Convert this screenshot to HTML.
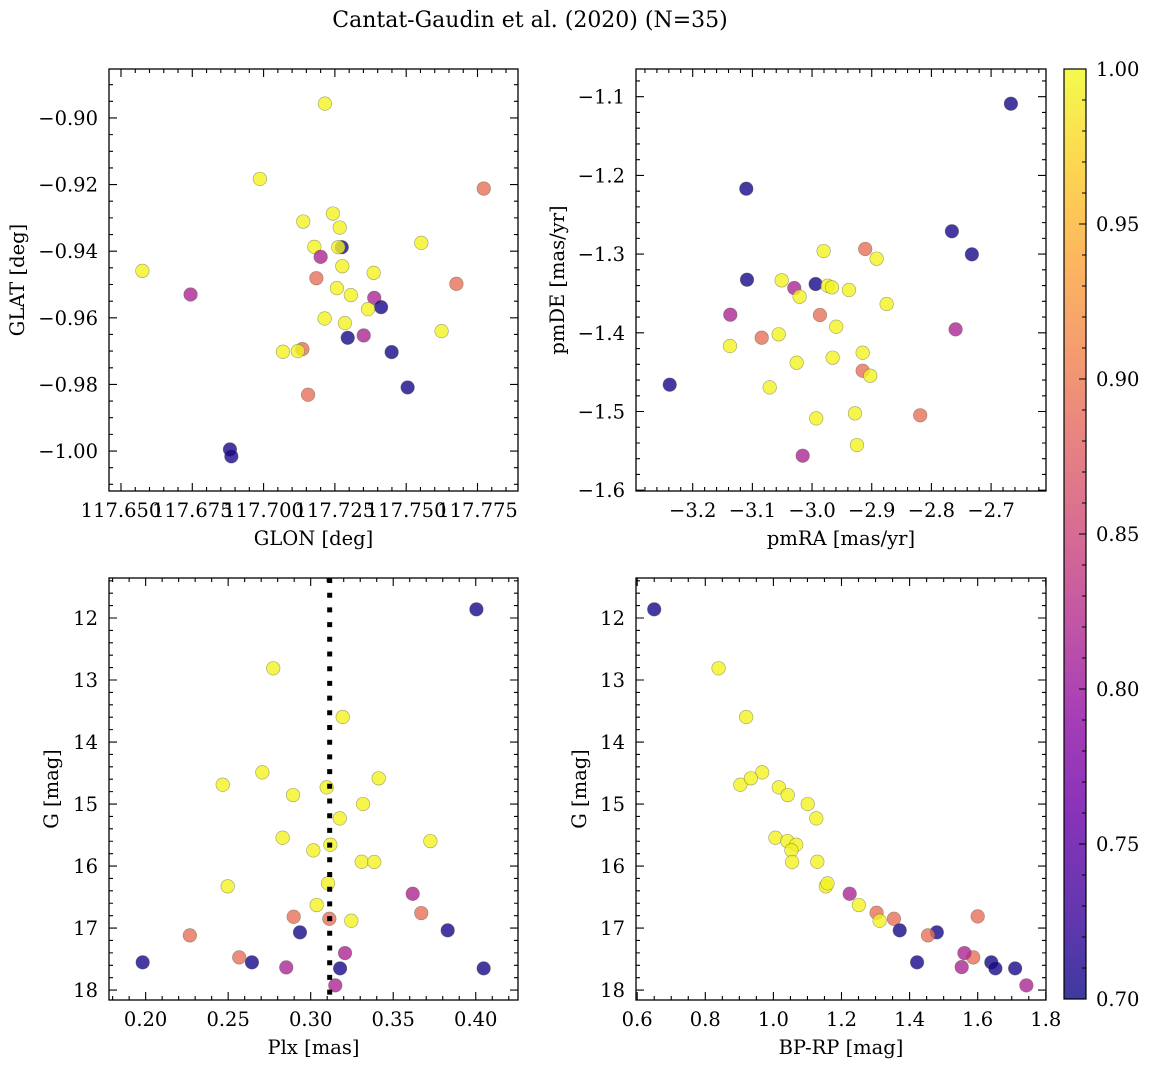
<!DOCTYPE html>
<html><head><meta charset="utf-8">
<style>
html,body{margin:0;padding:0;background:#fff;}
svg{display:block;font-family:"DejaVu Serif","Liberation Serif",serif;}
</style></head>
<body>
<svg id="fig" xmlns="http://www.w3.org/2000/svg" width="1149" height="1068" viewBox="0 0 1149 1068">
<defs>
<linearGradient id="plasmaGrad" x1="0" y1="1" x2="0" y2="0"></linearGradient>
</defs>
<text x="530" y="27" font-size="22" text-anchor="middle">Cantat-Gaudin et al. (2020) (N=35)</text>
</svg>
<script>
// ---- data ----
const glon = [117.7215,117.6987,117.7772,117.7243,117.7139,117.7267,117.7178,117.7274,117.7262,117.7553,117.7200,117.6575,117.7276,117.7386,117.7185,117.7676,117.7257,117.7306,117.6744,117.7388,117.7412,117.7366,117.7214,117.7285,117.7295,117.7351,117.7624,117.7068,117.7136,117.7120,117.7449,117.7505,117.7156,117.6882,117.6887];
const glat = [-0.8957,-0.9183,-0.9212,-0.9287,-0.9311,-0.9329,-0.9387,-0.9388,-0.9388,-0.9375,-0.9417,-0.9459,-0.9445,-0.9465,-0.9481,-0.9498,-0.9511,-0.9532,-0.9530,-0.9540,-0.9568,-0.9574,-0.9602,-0.9616,-0.9660,-0.9653,-0.9640,-0.9702,-0.9694,-0.9700,-0.9703,-0.9809,-0.9831,-0.9995,-1.0016];
const probTL = [0.995,0.995,0.89,0.995,0.995,0.995,0.995,0.705,0.995,0.995,0.815,0.995,0.995,0.995,0.89,0.89,0.995,0.995,0.815,0.815,0.705,0.995,0.995,0.995,0.705,0.815,0.995,0.995,0.89,0.995,0.705,0.705,0.89,0.705,0.705];

const pmra = [-2.6668,-3.1102,-2.7657,-2.7322,-2.9806,-2.9109,-2.8918,-3.1090,-3.0509,-2.9940,-3.0298,-2.9739,-2.9667,-2.9382,-3.0208,-2.8750,-3.1370,-2.9868,-2.9595,-2.7595,-3.0844,-3.0559,-3.1375,-2.9152,-2.9655,-3.0258,-2.9152,-2.9025,-3.2385,-3.0710,-2.9281,-2.9930,-2.8188,-2.9248,-3.0157];
const pmde = [-1.1089,-1.2169,-1.2710,-1.3003,-1.2961,-1.2935,-1.3058,-1.3325,-1.3333,-1.3380,-1.3431,-1.3402,-1.3422,-1.3456,-1.3541,-1.3634,-1.3770,-1.3774,-1.3923,-1.3956,-1.4062,-1.4019,-1.4168,-1.4253,-1.4316,-1.4380,-1.4482,-1.4545,-1.4659,-1.4693,-1.5023,-1.5087,-1.5048,-1.5426,-1.5562];
const probTR = [0.705,0.705,0.705,0.705,0.995,0.89,0.995,0.705,0.995,0.705,0.815,0.995,0.995,0.995,0.995,0.995,0.815,0.89,0.995,0.815,0.89,0.995,0.995,0.995,0.995,0.995,0.89,0.995,0.705,0.995,0.995,0.995,0.89,0.995,0.815];

const plx = [0.4004,0.2773,0.3194,0.2707,0.2467,0.3412,0.3097,0.2893,0.3317,0.3176,0.2830,0.3725,0.3119,0.3016,0.3309,0.3385,0.2497,0.3105,0.3618,0.3036,0.3670,0.2897,0.3113,0.3246,0.2935,0.3830,0.2268,0.2567,0.1982,0.2644,0.3208,0.2852,0.3178,0.4048,0.3149];
const gmagBL = [11.860,12.811,13.597,14.489,14.689,14.585,14.731,14.855,15.000,15.231,15.544,15.597,15.656,15.747,15.931,15.935,16.327,16.279,16.447,16.629,16.758,16.818,16.850,16.882,17.069,17.037,17.118,17.473,17.553,17.553,17.403,17.634,17.650,17.650,17.924];
const probBL = [0.705,0.995,0.995,0.995,0.995,0.995,0.995,0.995,0.995,0.995,0.995,0.995,0.995,0.995,0.995,0.995,0.995,0.995,0.815,0.995,0.89,0.89,0.89,0.995,0.705,0.705,0.89,0.89,0.705,0.705,0.815,0.815,0.705,0.705,0.815];
const plxMedian = [0.3115];

const bprp = [0.650,0.839,0.920,0.967,0.903,0.934,1.016,1.042,1.101,1.126,1.006,1.041,1.067,1.053,1.055,1.129,1.154,1.159,1.224,1.251,1.303,1.354,1.600,1.312,1.371,1.480,1.454,1.587,1.422,1.640,1.561,1.553,1.652,1.710,1.743];
const gmagBR = [11.860,12.811,13.597,14.489,14.689,14.585,14.731,14.855,15.000,15.231,15.544,15.597,15.656,15.747,15.935,15.931,16.327,16.279,16.447,16.629,16.753,16.850,16.812,16.882,17.037,17.069,17.118,17.473,17.553,17.553,17.403,17.629,17.650,17.650,17.924];
const probBR = [0.705,0.995,0.995,0.995,0.995,0.995,0.995,0.995,0.995,0.995,0.995,0.995,0.995,0.995,0.995,0.995,0.995,0.995,0.815,0.995,0.89,0.89,0.89,0.995,0.705,0.705,0.89,0.89,0.705,0.705,0.815,0.815,0.705,0.705,0.815];

const cbTicks = [0.70,0.75,0.80,0.85,0.90,0.95,1.00];

// ---- colormap ----
const plasma = ["#0d0887","#41049d","#6a00a8","#8f0da4","#b12a90","#cc4778","#e16462","#f2844b","#fca636","#fcce25","#f0f921"];
function hex2rgb(h){return [parseInt(h.slice(1,3),16),parseInt(h.slice(3,5),16),parseInt(h.slice(5,7),16)];}
function cmap(p){
  let t=(p-0.7)/0.3; t=Math.max(0,Math.min(1,t));
  const f=t*10, i=Math.min(9,Math.floor(f)), r=f-i;
  const a=hex2rgb(plasma[i]), b=hex2rgb(plasma[i+1]);
  const c=a.map((v,k)=>Math.round(v+(b[k]-v)*r));
  return "rgb("+c.join(",")+")";
}

const NS="http://www.w3.org/2000/svg";
const svg=document.getElementById("fig");
function mk(tag,attrs,parent){
  const e=document.createElementNS(NS,tag);
  for(const k in attrs) e.setAttribute(k,attrs[k]);
  (parent||svg).appendChild(e); return e;
}
function fmt(v,d){const s=Math.abs(v).toFixed(d);return (v<-1e-9?"\u2212":"")+s;}
const FS=19.5;

function panel(cfg){
  const g=mk("g",{});
  
  
  const {x0,y0,x1,y1}=cfg.box;
  const sx=v=>x0+(v-cfg.xd[0])/(cfg.xd[1]-cfg.xd[0])*(x1-x0);
  const sy=v=>cfg.yinv? y0+(v-cfg.yd[0])/(cfg.yd[1]-cfg.yd[0])*(y1-y0)
                      : y1-(v-cfg.yd[0])/(cfg.yd[1]-cfg.yd[0])*(y1-y0);
  for(let i=0;i<cfg.xs.length;i++){
    const c=mk("circle",{cx:sx(cfg.xs[i]),cy:sy(cfg.ys[i]),r:6.8,fill:cmap(cfg.ps[i]),"fill-opacity":0.8,stroke:"rgba(90,90,60,0.55)","stroke-width":0.6},g);
    
    
  }
  if(cfg.vline){
    for(const v of cfg.vline){
      const l=mk("line",{x1:sx(v),x2:sx(v),y1:y0,y2:y1,stroke:"#000","stroke-width":5,"stroke-dasharray":"5 9.7"},g);
      
      
    }
  }
  const fr=mk("rect",{x:x0,y:y0,width:x1-x0,height:y1-y0,fill:"none",stroke:"#000","stroke-width":1.3},g);
  
  
  const ticks=(lo,hi,step)=>{const a=[];const s=Math.ceil(lo/step-1e-6);for(let k=s;k*step<=hi+1e-9;k++)a.push(k*step);return a;};
  const xmin=Math.min(...cfg.xd),xmax=Math.max(...cfg.xd),ymin=Math.min(...cfg.yd),ymax=Math.max(...cfg.yd);
  let p="";
  ticks(xmin,xmax,cfg.xminor).forEach(v=>{const X=sx(v);p+=`M${X} ${y1}v-4M${X} ${y0}v4`;});
  ticks(ymin,ymax,cfg.yminor).forEach(v=>{const Y=sy(v);p+=`M${x0} ${Y}h4M${x1} ${Y}h-4`;});
  cfg.xmajor.forEach(v=>{const X=sx(v);p+=`M${X} ${y1}v-8M${X} ${y0}v8`;});
  cfg.ymajor.forEach(v=>{const Y=sy(v);p+=`M${x0} ${Y}h8M${x1} ${Y}h-8`;});
  const tp=mk("path",{d:p,stroke:"#000","stroke-width":1.1,fill:"none"},g);
  
  
  cfg.xmajor.forEach(v=>{
    const t=mk("text",{x:sx(v),y:y1+26,"font-size":FS,"text-anchor":"middle"},g);
    t.textContent=fmt(v,cfg.xdec);
    
    
  });
  cfg.ymajor.forEach(v=>{
    const t=mk("text",{x:x0-11,y:sy(v)+7,"font-size":FS,"text-anchor":"end"},g);
    t.textContent=fmt(v,cfg.ydec);
    
    
  });
  const xl=mk("text",{x:(x0+x1)/2,y:y1+54,"font-size":FS,"text-anchor":"middle"},g);
  xl.textContent=cfg.xlabel;
  
  
  const yl=mk("text",{x:0,y:0,"font-size":FS,"text-anchor":"middle",transform:`translate(${cfg.ylx},${(y0+y1)/2}) rotate(-90)`},g);
  yl.textContent=cfg.ylabel;
  
  
}

panel({name:"panel-glon-glat",box:{x0:109,y0:69,x1:518,y1:491},xd:[117.6458,117.7892],yd:[-1.0120,-0.8853],
  xs:glon,ys:glat,ps:probTL,xmajor:[117.650,117.675,117.700,117.725,117.750,117.775],xminor:0.005,
  ymajor:[-1.00,-0.98,-0.96,-0.94,-0.92,-0.90],yminor:0.005,xdec:3,ydec:2,xlabel:"GLON [deg]",ylabel:"GLAT [deg]",ylx:24});
panel({name:"panel-pmra-pmde",box:{x0:636,y0:69,x1:1046,y1:491},xd:[-3.295,-2.608],yd:[-1.601,-1.0648],
  xs:pmra,ys:pmde,ps:probTR,xmajor:[-3.2,-3.1,-3.0,-2.9,-2.8,-2.7],xminor:0.02,
  ymajor:[-1.6,-1.5,-1.4,-1.3,-1.2,-1.1],yminor:0.02,xdec:1,ydec:1,xlabel:"pmRA [mas/yr]",ylabel:"pmDE [mas/yr]",ylx:564});
panel({name:"panel-plx-g",box:{x0:109,y0:578,x1:518,y1:1000},xd:[0.1778,0.4256],yd:[11.355,18.16],yinv:true,
  xs:plx,ys:gmagBL,ps:probBL,vline:plxMedian,xmajor:[0.20,0.25,0.30,0.35,0.40],xminor:0.01,
  ymajor:[12,13,14,15,16,17,18],yminor:0.2,xdec:2,ydec:0,xlabel:"Plx [mas]",ylabel:"G [mag]",ylx:58});
panel({name:"panel-bprp-g",box:{x0:636,y0:578,x1:1046,y1:1000},xd:[0.5965,1.8006],yd:[11.355,18.16],yinv:true,
  xs:bprp,ys:gmagBR,ps:probBR,xmajor:[0.6,0.8,1.0,1.2,1.4,1.6,1.8],xminor:0.05,
  ymajor:[12,13,14,15,16,17,18],yminor:0.2,xdec:1,ydec:0,xlabel:"BP-RP [mag]",ylabel:"G [mag]",ylx:586});

(function(){
  const grad=document.getElementById("plasmaGrad");
  plasma.forEach((c,i)=>{mk("stop",{offset:(i/10),"stop-color":c,"stop-opacity":0.8},grad);});
  const cx0=1064,cx1=1086,cy0=69,cy1=999;
  const cs=v=>cy1-(v-0.7)/0.3*(cy1-cy0);
  const r=mk("rect",{x:cx0,y:cy0,width:cx1-cx0,height:cy1-cy0,fill:"url(#plasmaGrad)",stroke:"#000","stroke-width":1.2});
  
  
  let p="";
  for(let k=70;k<=100;k++){const Y=cs(k/100);p+=`M${cx1} ${Y}h-4`;}
  cbTicks.forEach(v=>{p+=`M${cx1} ${cs(v)}h-7`;});
  const tp=mk("path",{d:p,stroke:"#000","stroke-width":1.1});
  
  
  cbTicks.forEach(v=>{
    const t=mk("text",{x:1096,y:cs(v)+7,"font-size":FS});
    t.textContent=v.toFixed(2);
    
    
  });
})();
</script>
</body></html>
